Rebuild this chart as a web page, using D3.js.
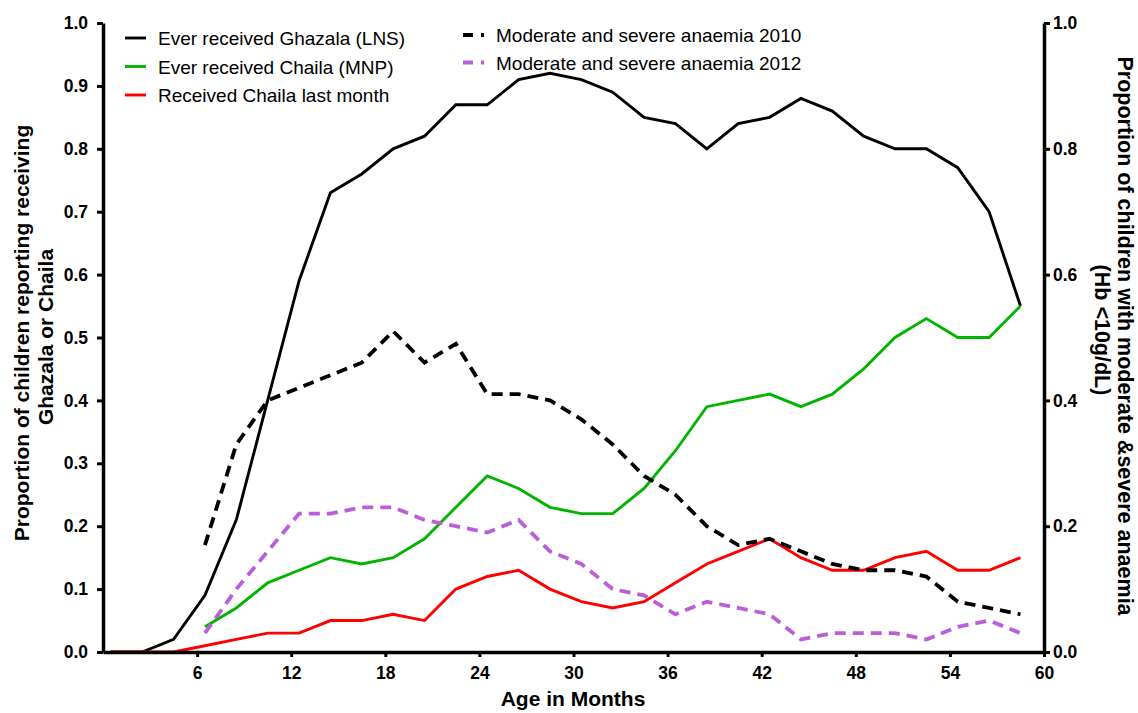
<!DOCTYPE html>
<html>
<head>
<meta charset="utf-8">
<script src="https://cdn.jsdelivr.net/npm/d3@7"></script>
<style>
  body { margin: 0; background: #fff; }
  svg { display: block; font-family: "Liberation Sans", Arial, sans-serif; }
</style>
</head>
<body>
<div id="chart"></div>
<script>
// age in months (mid-points of 2-month bins)
const months = [0.5, 2.5, 4.5, 6.5, 8.5, 10.5, 12.5, 14.5, 16.5, 18.5, 20.5, 22.5, 24.5, 26.5, 28.5,
                30.5, 32.5, 34.5, 36.5, 38.5, 40.5, 42.5, 44.5, 46.5, 48.5, 50.5, 52.5, 54.5, 56.5, 58.5];

// left axis series
const everGhazala = [0, 0, 0.02, 0.09, 0.21, 0.40, 0.59, 0.73, 0.76, 0.80, 0.82, 0.87, 0.87, 0.91, 0.92,
                     0.91, 0.89, 0.85, 0.84, 0.80, 0.84, 0.85, 0.88, 0.86, 0.82, 0.80, 0.80, 0.77, 0.70, 0.55];
const everChaila = [null, null, null, 0.04, 0.07, 0.11, 0.13, 0.15, 0.14, 0.15, 0.18, 0.23, 0.28, 0.26, 0.23,
                    0.22, 0.22, 0.26, 0.32, 0.39, 0.40, 0.41, 0.39, 0.41, 0.45, 0.50, 0.53, 0.50, 0.50, 0.55];
const chailaLastMonth = [0, 0, 0, 0.01, 0.02, 0.03, 0.03, 0.05, 0.05, 0.06, 0.05, 0.10, 0.12, 0.13, 0.10,
                         0.08, 0.07, 0.08, 0.11, 0.14, 0.16, 0.18, 0.15, 0.13, 0.13, 0.15, 0.16, 0.13, 0.13, 0.15];

// right axis series
const anaemia2010 = [null, null, null, 0.17, 0.33, 0.40, 0.42, 0.44, 0.46, 0.51, 0.46, 0.49, 0.41, 0.41, 0.40,
                     0.37, 0.33, 0.28, 0.25, 0.20, 0.17, 0.18, 0.16, 0.14, 0.13, 0.13, 0.12, 0.08, 0.07, 0.06];
const anaemia2012 = [null, null, null, 0.03, 0.10, 0.16, 0.22, 0.22, 0.23, 0.23, 0.21, 0.20, 0.19, 0.21, 0.16,
                     0.14, 0.10, 0.09, 0.06, 0.08, 0.07, 0.06, 0.02, 0.03, 0.03, 0.03, 0.02, 0.04, 0.05, 0.03];

const xTicks = [6, 12, 18, 24, 30, 36, 42, 48, 54, 60];
const leftTicks = [0, 0.1, 0.2, 0.3, 0.4, 0.5, 0.6, 0.7, 0.8, 0.9, 1.0];
const rightTicks = [0, 0.2, 0.4, 0.6, 0.8, 1.0];

const W = 1138, H = 713;
const svg = d3.select("#chart").append("svg")
              .attr("width", W)
              .attr("height", H);

const x = d3.scaleLinear().domain([0, 60]).range([103, 1044]);
const yL = d3.scaleLinear().domain([0, 1]).range([652, 23]);
const yR = d3.scaleLinear().domain([0, 1]).range([652, 23]);

// series drawn from the arrays above
const series = [
  { name: "Ever received Ghazala (LNS)", values: everGhazala, y: yL, color: "#000000", dash: null },
  { name: "Ever received Chaila (MNP)", values: everChaila, y: yL, color: "#00b400", dash: null },
  { name: "Received Chaila last month", values: chailaLastMonth, y: yL, color: "#ff0000", dash: null },
  { name: "Moderate and severe anaemia 2010", values: anaemia2010, y: yR, color: "#000000", dash: "11,7" },
  { name: "Moderate and severe anaemia 2012", values: anaemia2012, y: yR, color: "#bb5ed9", dash: "11,7" }
];

series.forEach(s => {
  const pts = months.map((m, i) => ({ m: m, v: s.values[i] }));
  const line = d3.line()
                 .defined(d => d.v !== null)
                 .x(d => x(d.m))
                 .y(d => s.y(d.v));
  svg.append("path")
     .datum(pts)
     .attr("fill", "none")
     .attr("stroke", s.color)
     .attr("stroke-width", s.dash ? 3.8 : 2.9)
     .attr("stroke-dasharray", s.dash)
     .attr("stroke-linejoin", "miter")
     .attr("d", line);
});

// axes
function styleAxis(g) {
  g.select(".domain").attr("stroke", "#000").attr("stroke-width", 3.5);
  g.selectAll(".tick line").attr("stroke", "#000").attr("stroke-width", 3);
  g.selectAll(".tick text")
   .attr("fill", "#000")
   .style("font-size", "17.5px")
   .style("font-weight", "bold");
}

svg.append("g")
   .attr("transform", "translate(0,652)")
   .call(d3.axisBottom(x).tickValues(xTicks).tickFormat(d3.format("d"))
           .tickSize(5).tickPadding(10).tickSizeOuter(0))
   .call(styleAxis);

svg.append("g")
   .attr("transform", "translate(103,0)")
   .call(d3.axisLeft(yL).tickValues(leftTicks).tickFormat(d3.format(".1f"))
           .tickSize(6).tickPadding(9).tickSizeOuter(0))
   .call(styleAxis);

svg.append("g")
   .attr("transform", "translate(1044,0)")
   .call(d3.axisRight(yR).tickValues(rightTicks).tickFormat(d3.format(".1f"))
           .tickSize(6).tickPadding(3).tickSizeOuter(0))
   .call(styleAxis);

// axis titles
svg.append("text")
   .attr("x", 573).attr("y", 706)
   .attr("text-anchor", "middle")
   .style("font-size", "21px").style("font-weight", "bold")
   .text("Age in Months");

svg.append("text")
   .attr("transform", "translate(29,333) rotate(-90)")
   .attr("text-anchor", "middle")
   .style("font-size", "21px").style("font-weight", "bold")
   .text("Proportion of children reporting receiving");
svg.append("text")
   .attr("transform", "translate(53,337) rotate(-90)")
   .attr("text-anchor", "middle")
   .style("font-size", "21px").style("font-weight", "bold")
   .text("Ghazala or Chaila");

svg.append("text")
   .attr("transform", "translate(1118,336) rotate(90)")
   .attr("text-anchor", "middle")
   .style("font-size", "21.5px").style("font-weight", "bold")
   .text("Proportion of children with moderate &severe anaemia");
svg.append("text")
   .attr("transform", "translate(1095,330) rotate(90)")
   .attr("text-anchor", "middle")
   .style("font-size", "21.5px").style("font-weight", "bold")
   .text("(Hb <10g/dL)");

// legends
const legendLeft = series.slice(0, 3);
const legendRight = series.slice(3);

legendLeft.forEach((s, i) => {
  const ly = 38 + i * 28.5;
  svg.append("line")
     .attr("x1", 125).attr("x2", 146).attr("y1", ly).attr("y2", ly)
     .attr("stroke", s.color).attr("stroke-width", 2.9);
  svg.append("text")
     .attr("x", 158).attr("y", ly + 7)
     .style("font-size", "19px")
     .text(s.name);
});

legendRight.forEach((s, i) => {
  const ly = 35 + i * 27.5;
  svg.append("line")
     .attr("x1", 463).attr("x2", 484).attr("y1", ly).attr("y2", ly)
     .attr("stroke", s.color).attr("stroke-width", 3.8)
     .attr("stroke-dasharray", "10,8");
  svg.append("text")
     .attr("x", 496).attr("y", ly + 7)
     .style("font-size", "19px")
     .text(s.name);
});
</script>
</body>
</html>
